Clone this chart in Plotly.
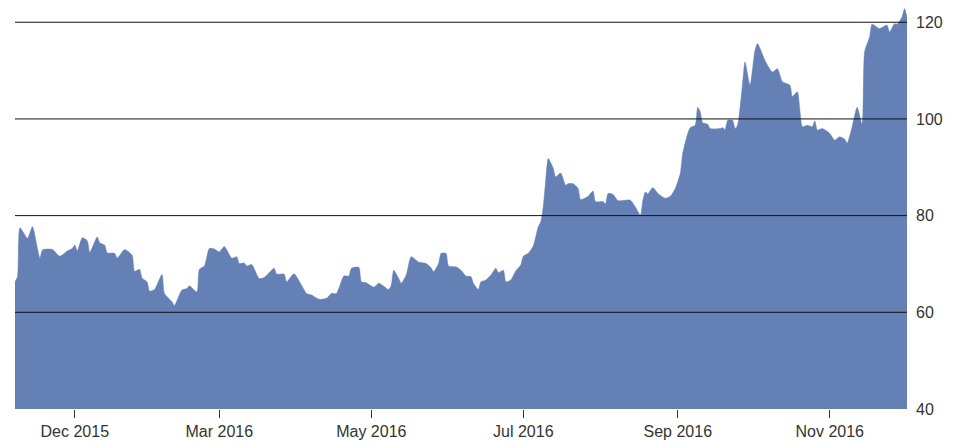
import plotly.graph_objects as go

# Daily closing level, Dec 2015 – Dec 2016
dates = [
    "2015-12-10", "2015-12-11", "2015-12-12", "2015-12-15", "2015-12-17", "2015-12-20",
    "2015-12-21", "2015-12-25", "2015-12-28", "2015-12-31", "2016-01-02", "2016-01-03",
    "2016-01-04", "2016-01-06", "2016-01-08", "2016-01-09", "2016-01-12", "2016-01-13",
    "2016-01-15", "2016-01-16", "2016-01-19", "2016-01-20", "2016-01-23", "2016-01-26",
    "2016-01-27", "2016-01-29", "2016-01-30", "2016-02-01", "2016-02-02", "2016-02-04",
    "2016-02-07", "2016-02-08", "2016-02-11", "2016-02-12", "2016-02-15", "2016-02-17",
    "2016-02-18", "2016-02-21", "2016-02-22", "2016-02-24", "2016-02-26", "2016-02-28",
    "2016-03-01", "2016-03-03", "2016-03-06", "2016-03-08", "2016-03-09", "2016-03-11",
    "2016-03-12", "2016-03-14", "2016-03-17", "2016-03-19", "2016-03-23", "2016-03-24",
    "2016-03-27", "2016-03-28", "2016-03-31", "2016-04-03", "2016-04-05", "2016-04-07",
    "2016-04-10", "2016-04-13", "2016-04-15", "2016-04-17", "2016-04-20", "2016-04-22",
    "2016-04-23", "2016-04-26", "2016-04-27", "2016-04-29", "2016-05-02", "2016-05-04",
    "2016-05-06", "2016-05-08", "2016-05-09", "2016-05-10", "2016-05-12", "2016-05-13",
    "2016-05-15", "2016-05-17", "2016-05-20", "2016-05-23", "2016-05-25", "2016-05-26",
    "2016-05-28", "2016-05-29", "2016-05-31", "2016-06-01", "2016-06-04", "2016-06-06",
    "2016-06-08", "2016-06-10", "2016-06-11", "2016-06-13", "2016-06-14", "2016-06-16",
    "2016-06-18", "2016-06-20", "2016-06-21", "2016-06-23", "2016-06-24", "2016-06-26",
    "2016-06-28", "2016-06-30", "2016-07-01", "2016-07-03", "2016-07-05", "2016-07-07",
    "2016-07-08", "2016-07-09", "2016-07-10", "2016-07-11", "2016-07-13", "2016-07-14",
    "2016-07-16", "2016-07-18", "2016-07-19", "2016-07-21", "2016-07-23", "2016-07-24",
    "2016-07-27", "2016-07-29", "2016-07-30", "2016-08-02", "2016-08-03", "2016-08-04",
    "2016-08-06", "2016-08-08", "2016-08-11", "2016-08-13", "2016-08-15", "2016-08-17",
    "2016-08-18", "2016-08-19", "2016-08-20", "2016-08-22", "2016-08-24", "2016-08-27",
    "2016-08-29", "2016-08-31", "2016-09-02", "2016-09-03", "2016-09-05", "2016-09-06",
    "2016-09-08", "2016-09-09", "2016-09-10", "2016-09-11", "2016-09-13", "2016-09-14",
    "2016-09-18", "2016-09-19", "2016-09-20", "2016-09-21", "2016-09-23", "2016-09-24",
    "2016-09-25", "2016-09-27", "2016-09-28", "2016-09-30", "2016-10-02", "2016-10-03",
    "2016-10-04", "2016-10-06", "2016-10-09", "2016-10-11", "2016-10-13", "2016-10-16",
    "2016-10-17", "2016-10-19", "2016-10-20", "2016-10-21", "2016-10-23", "2016-10-25",
    "2016-10-26", "2016-10-27", "2016-10-29", "2016-11-01", "2016-11-03", "2016-11-05",
    "2016-11-07", "2016-11-08", "2016-11-10", "2016-11-12", "2016-11-14", "2016-11-15",
    "2016-11-17", "2016-11-18", "2016-11-21", "2016-11-24", "2016-11-25", "2016-11-27",
    "2016-11-28", "2016-11-30", "2016-12-01", "2016-12-02",
]

values = [
    66.3, 67.4, 77.5, 75.3, 77.7, 71.2,
    72.9, 73.0, 71.6, 72.7, 73.2, 73.9,
    72.7, 75.4, 74.8, 72.4, 75.6, 74.4,
    73.9, 72.3, 72.2, 71.2, 73.0, 71.8,
    68.5, 68.9, 67.1, 66.3, 64.4, 64.7,
    67.8, 63.9, 62.2, 61.4, 64.6, 64.9,
    65.5, 64.2, 68.9, 69.6, 73.2, 73.1,
    72.5, 73.6, 71.2, 71.5, 70.1, 70.2,
    69.6, 69.9, 67.0, 67.2, 69.1, 67.9,
    67.9, 66.3, 68.0, 65.6, 63.9, 63.6,
    62.7, 62.9, 63.9, 63.9, 67.5, 67.5,
    69.1, 69.3, 66.3, 66.1, 65.2, 66.0,
    65.4, 64.7, 65.6, 68.7, 67.0, 66.0,
    67.7, 71.5, 70.4, 70.1, 69.2, 68.4,
    70.1, 72.2, 72.2, 69.6, 69.4, 68.7,
    67.5, 67.4, 66.0, 64.7, 66.3, 66.7,
    67.7, 69.1, 68.2, 68.7, 66.3, 66.7,
    68.6, 69.8, 71.6, 72.2, 73.7, 77.7,
    78.7, 81.8, 87.3, 91.8, 89.8, 88.0,
    88.8, 86.3, 86.6, 86.6, 85.6, 83.3,
    84.0, 85.1, 82.9, 82.9, 82.4, 84.6,
    84.4, 83.1, 83.2, 83.2, 81.8, 80.1,
    83.2, 84.9, 84.5, 85.8, 84.6, 83.6,
    84.0, 85.6, 88.7, 92.9, 97.0, 98.2,
    98.7, 102.4, 101.5, 99.2, 98.9, 98.0,
    98.0, 98.2, 97.8, 99.7, 99.7, 98.0,
    98.7, 107.3, 111.8, 107.0, 114.2, 115.6,
    114.6, 112.1, 109.7, 110.4, 107.7, 107.0,
    104.6, 105.6, 101.8, 98.4, 98.7, 98.4,
    99.6, 97.7, 98.0, 97.0, 95.6, 96.3,
    95.8, 95.0, 98.4, 102.4, 98.9, 113.9,
    117.0, 119.6, 118.7, 119.4, 118.0, 119.7,
    119.6, 121.1, 122.8, 121.1,
]

# Axis ticks
x_tick_dates = ["2016-01-03", "2016-03-01", "2016-05-01", "2016-07-01", "2016-09-01", "2016-11-01"]
x_tick_labels = ["Dec 2015", "Mar 2016", "May 2016", "Jul 2016", "Sep 2016", "Nov 2016"]
y_ticks = [40, 60, 80, 100, 120]
grid_levels = [60, 80, 100, 120]

AREA = "#6480b4"
TEXT = "#333333"
FONT = "Liberation Sans, Arial, Helvetica, sans-serif"

fig = go.Figure()
fig.add_trace(go.Scatter(
    x=dates,
    y=values,
    mode="lines",
    line=dict(color=AREA, width=0.5, shape="spline", smoothing=0.6),
    fill="tozeroy",
    fillcolor=AREA,
    hoverinfo="x+y",
    showlegend=False,
))

# Horizontal rules drawn over the area
for lvl in grid_levels:
    fig.add_shape(
        type="line", xref="paper", yref="y",
        x0=0, x1=1, y0=lvl, y1=lvl,
        line=dict(color="#111111", width=1),
        layer="above",
    )

fig.update_layout(
    width=959,
    height=442,
    margin=dict(l=15, r=52, t=0, b=33),
    paper_bgcolor="white",
    plot_bgcolor="white",
    font=dict(family=FONT, size=16, color=TEXT),
    xaxis=dict(
        type="date",
        range=[dates[0], dates[-1]],
        tickvals=x_tick_dates,
        ticktext=x_tick_labels,
        ticks="outside",
        ticklen=8,
        tickwidth=1,
        tickcolor=TEXT,
        showgrid=False,
        showline=False,
        zeroline=False,
        tickfont=dict(size=16, color=TEXT),
    ),
    yaxis=dict(
        side="right",
        range=[40, 124.6],
        tickvals=y_ticks,
        ticks="",
        ticklabelstandoff=8,
        showgrid=False,
        showline=False,
        zeroline=False,
        tickfont=dict(size=16, color=TEXT),
    ),
)

fig.write_html("out.html", config={"displayModeBar": False})
